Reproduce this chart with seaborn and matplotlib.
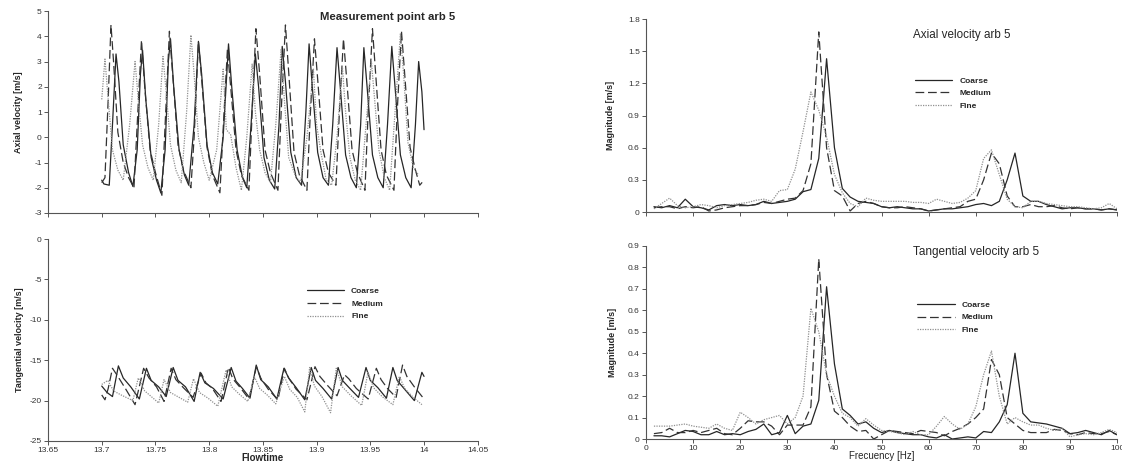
import numpy as np
import pandas as pd
import matplotlib
matplotlib.use("Agg")
import matplotlib.pyplot as plt
import seaborn as sns

# ---- time signals (waypoints) ----
t_ax_coarse = [13.700, 13.702, 13.707, 13.710, 13.7133, 13.716, 13.720, 13.725, 13.729,
               13.733, 13.736, 13.738, 13.741, 13.746, 13.751, 13.755,
               13.759, 13.762, 13.764, 13.767, 13.772, 13.777, 13.781,
               13.786, 13.790, 13.793, 13.798, 13.803, 13.808,
               13.813, 13.818, 13.821, 13.826, 13.831, 13.835,
               13.839, 13.843, 13.846, 13.851, 13.856, 13.861,
               13.865, 13.868, 13.871, 13.876, 13.881, 13.886,
               13.890, 13.893, 13.896, 13.901, 13.906, 13.911,
               13.915, 13.919, 13.922, 13.927, 13.932, 13.937,
               13.941, 13.944, 13.947, 13.952, 13.957, 13.962,
               13.966, 13.970, 13.973, 13.978, 13.983, 13.988,
               13.992, 13.995, 13.998, 14.000]
v_ax_coarse = [-1.7, -1.85, -1.9, 0.5, 3.3, 2.2, -0.3, -1.4, -1.95,
               -0.5, 2.5, 3.45, 1.5, -0.8, -1.7, -2.2,
               -0.5, 3.0, 3.9, 2.0, -0.5, -1.5, -1.9,
               0.5, 3.8, 2.5, -0.3, -1.4, -1.85,
               0.0, 3.7, 2.0, -0.5, -1.6, -2.0,
               0.5, 3.3, 2.0, -0.8, -1.7, -2.05,
               0.5, 3.6, 2.2, -0.6, -1.6, -1.9,
               1.0, 3.7, 2.0, -0.6, -1.6, -1.9,
               0.5, 3.55, 2.0, -0.7, -1.6, -2.0,
               0.5, 3.55, 2.0, -0.7, -1.6, -2.0,
               0.5, 3.6, 2.0, -0.7, -1.6, -2.0,
               0.5, 3.0, 1.8, 0.3]

t_ax_medium = [13.700, 13.703, 13.706, 13.7086, 13.711, 13.715, 13.720, 13.725, 13.730,
               13.733, 13.737, 13.740, 13.745, 13.750, 13.756,
               13.759, 13.763, 13.766, 13.771, 13.776, 13.783,
               13.786, 13.790, 13.793, 13.798, 13.803, 13.810,
               13.813, 13.817, 13.820, 13.825, 13.830, 13.837,
               13.840, 13.8435, 13.847, 13.852, 13.857, 13.864,
               13.867, 13.871, 13.874, 13.879, 13.884, 13.891,
               13.894, 13.898, 13.901, 13.906, 13.911, 13.918,
               13.921, 13.925, 13.928, 13.933, 13.938, 13.945,
               13.948, 13.952, 13.955, 13.960, 13.965, 13.972,
               13.975, 13.979, 13.982, 13.987, 13.992, 13.996, 14.000]
v_ax_medium = [-1.8, -1.6, 1.5, 4.45, 3.0, 0.2, -1.0, -1.6, -2.0,
               0.5, 3.85, 2.0, -0.5, -1.4, -2.3,
               0.5, 4.2, 2.5, -0.3, -1.3, -2.0,
               0.0, 3.8, 2.3, -0.4, -1.5, -2.2,
               0.3, 3.5, 2.0, -0.5, -1.5, -2.1,
               1.0, 4.3, 2.5, -0.5, -1.4, -2.1,
               1.0, 4.45, 2.6, -0.6, -1.5, -2.1,
               0.8, 3.9, 2.3, -0.5, -1.4, -1.9,
               0.8, 3.9, 2.3, -0.5, -1.4, -2.1,
               1.0, 4.3, 2.5, -0.5, -1.5, -2.1,
               1.0, 4.2, 2.5, -0.4, -1.3, -1.9, -1.7]

t_ax_fine = [13.700, 13.703, 13.706, 13.710, 13.715, 13.720, 13.726,
             13.731, 13.734, 13.738, 13.743, 13.748, 13.753,
             13.757, 13.760, 13.764, 13.769, 13.774, 13.779,
             13.783, 13.786, 13.790, 13.795, 13.800, 13.807,
             13.813, 13.816, 13.820, 13.825, 13.830, 13.835,
             13.840, 13.843, 13.847, 13.852, 13.857, 13.862,
             13.867, 13.870, 13.874, 13.880, 13.885, 13.891,
             13.897, 13.900, 13.904, 13.909, 13.914, 13.919,
             13.924, 13.927, 13.931, 13.936, 13.941, 13.946,
             13.951, 13.954, 13.958, 13.963, 13.968, 13.973,
             13.978, 13.981, 13.985, 13.990, 13.995]
v_ax_fine = [1.5, 3.1, 1.5, -0.5, -1.3, -1.7, 0.5,
             3.0, 1.5, -0.3, -1.2, -1.7, 0.5,
             3.2, 1.8, -0.3, -1.3, -1.8, 1.0,
             4.05, 2.5, 0.0, -1.0, -1.7, -0.5,
             2.7, 0.3, 0.1, -1.2, -2.1, 0.0,
             2.9, 1.0, -0.5, -1.4, -1.8, 0.5,
             3.5, 1.5, -0.8, -1.5, -1.8, 0.0,
             2.7, 0.5, -0.6, -1.7, -1.9, 0.0,
             2.8, 1.0, -0.8, -1.7, -2.1, 0.5,
             3.0, 1.5, -0.5, -1.6, -2.1, 1.0,
             4.1, 2.5, -0.2, -1.2, -1.5]

t_tg_coarse = [13.700, 13.705, 13.710, 13.7155, 13.720, 13.727, 13.735, 13.7416, 13.746,
               13.753, 13.760, 13.7665, 13.771, 13.778, 13.786, 13.7916, 13.796, 13.804,
               13.813, 13.8205, 13.825, 13.831, 13.838, 13.8438, 13.848, 13.855, 13.863,
               13.8696, 13.874, 13.881, 13.889, 13.895, 13.899, 13.906, 13.914, 13.920,
               13.924, 13.931, 13.939, 13.946, 13.950, 13.957, 13.965, 13.971, 13.975,
               13.982, 13.991, 13.998, 14.000]
v_tg_coarse = [-18.2, -19.0, -19.5, -15.7, -17.2, -18.3, -19.8, -16.0, -17.5,
               -18.3, -19.5, -15.9, -17.5, -18.3, -20.1, -16.5, -17.8, -18.5,
               -19.8, -15.9, -17.6, -18.5, -19.7, -15.6, -17.4, -18.3, -19.8,
               -16.0, -17.2, -18.4, -19.9, -15.9, -17.5, -18.5, -19.8, -15.9,
               -17.5, -18.5, -19.6, -15.9, -17.5, -18.4, -19.7, -15.9, -17.5,
               -18.6, -20.0, -16.5, -17.0]

t_tg_medium = [13.700, 13.703, 13.706, 13.710, 13.715, 13.722, 13.731, 13.739, 13.744,
               13.751, 13.758, 13.7646, 13.769, 13.776, 13.785, 13.7925, 13.797, 13.803,
               13.811, 13.818, 13.822, 13.829, 13.837, 13.844, 13.848, 13.855, 13.864,
               13.870, 13.874, 13.881, 13.891, 13.8985, 13.903, 13.910, 13.919, 13.926,
               13.930, 13.937, 13.948, 13.9556, 13.960, 13.966, 13.974, 13.980, 13.984,
               13.991, 14.000]
v_tg_medium = [-19.3, -19.9, -18.5, -16.0, -17.0, -18.5, -20.5, -16.0, -17.2,
               -18.3, -20.1, -16.0, -17.4, -18.4, -19.6, -16.6, -17.8, -18.5,
               -20.1, -15.9, -17.3, -18.4, -19.8, -15.8, -17.2, -18.6, -19.9,
               -16.0, -17.2, -18.6, -19.9, -15.8, -17.0, -18.1, -19.4, -16.8,
               -17.3, -18.5, -19.8, -16.0, -17.4, -18.5, -19.6, -15.6, -17.0,
               -18.3, -19.8]

t_tg_fine = [13.700, 13.7056, 13.711, 13.718, 13.729, 13.734, 13.740, 13.747, 13.753,
             13.758, 13.764, 13.772, 13.780, 13.7854, 13.791, 13.799, 13.808, 13.8158,
             13.821, 13.828, 13.836, 13.842, 13.847, 13.854, 13.862, 13.870, 13.875,
             13.882, 13.889, 13.8935, 13.898, 13.905, 13.913, 13.9183, 13.924, 13.932,
             13.942, 13.9478, 13.953, 13.961, 13.971, 13.977, 13.982, 13.990, 13.998]
v_tg_fine = [-18.0, -17.5, -18.8, -19.3, -20.0, -17.2, -18.8, -19.6, -20.3,
             -17.4, -19.0, -19.6, -20.2, -17.3, -19.0, -19.7, -20.7, -16.2,
             -18.3, -19.2, -20.1, -17.0, -18.5, -19.3, -20.4, -17.0, -18.6,
             -19.6, -21.4, -15.9, -18.2, -19.5, -21.5, -16.0, -18.3, -19.4,
             -20.6, -16.5, -18.4, -19.5, -20.5, -17.0, -18.5, -19.6, -20.5]

# ---- spectra ----
freq = [1.67, 3.33, 5.0, 6.67, 8.33, 10.0, 11.67, 13.33, 15.0, 16.67,
        18.33, 20.0, 21.67, 23.33, 25.0, 26.67, 28.33, 30.0, 31.67, 33.33,
        35.0, 36.67, 38.33, 40.0, 41.67, 43.33, 45.0, 46.67, 48.33, 50.0,
        51.67, 53.33, 55.0, 56.67, 58.33, 60.0, 61.67, 63.33, 65.0, 66.67,
        68.33, 70.0, 71.67, 73.33, 75.0, 76.67, 78.33, 80.0, 81.67, 83.33,
        85.0, 86.67, 88.33, 90.0, 91.67, 93.33, 95.0, 96.67, 98.33, 100.0]

fa_coarse = [0.05, 0.04, 0.06, 0.04, 0.12, 0.05, 0.04, 0.02, 0.06, 0.07,
             0.06, 0.07, 0.06, 0.07, 0.10, 0.08, 0.09, 0.10, 0.12, 0.19,
             0.21, 0.50, 1.43, 0.60, 0.22, 0.14, 0.10, 0.09, 0.08, 0.05,
             0.04, 0.05, 0.04, 0.03, 0.03, 0.01, 0.02, 0.03, 0.03, 0.04,
             0.05, 0.07, 0.08, 0.06, 0.10, 0.30, 0.55, 0.15, 0.10, 0.10,
             0.07, 0.05, 0.03, 0.04, 0.04, 0.03, 0.03, 0.02, 0.03, 0.02]
fa_medium = [0.04, 0.05, 0.05, 0.03, 0.05, 0.04, 0.05, 0.01, 0.02, 0.04,
             0.05, 0.06, 0.06, 0.07, 0.09, 0.08, 0.10, 0.12, 0.13, 0.20,
             0.45, 1.68, 0.60, 0.20, 0.15, 0.01, 0.08, 0.10, 0.08, 0.05,
             0.04, 0.04, 0.05, 0.04, 0.03, 0.01, 0.02, 0.03, 0.04, 0.05,
             0.10, 0.12, 0.30, 0.55, 0.45, 0.15, 0.05, 0.05, 0.07, 0.05,
             0.05, 0.06, 0.04, 0.03, 0.04, 0.03, 0.03, 0.02, 0.03, 0.02]
fa_fine = [0.03, 0.08, 0.13, 0.06, 0.04, 0.05, 0.07, 0.06, 0.04, 0.06,
           0.07, 0.08, 0.09, 0.11, 0.12, 0.10, 0.20, 0.21, 0.40, 0.75,
           1.12, 0.95, 0.70, 0.35, 0.18, 0.08, 0.05, 0.13, 0.11, 0.10,
           0.10, 0.10, 0.10, 0.09, 0.09, 0.08, 0.12, 0.10, 0.08, 0.09,
           0.13, 0.20, 0.50, 0.58, 0.35, 0.12, 0.05, 0.04, 0.10, 0.10,
           0.08, 0.07, 0.06, 0.05, 0.05, 0.04, 0.03, 0.04, 0.08, 0.03]

ft_coarse = [0.015, 0.015, 0.01, 0.025, 0.04, 0.035, 0.02, 0.02, 0.035, 0.02,
             0.025, 0.02, 0.035, 0.045, 0.07, 0.02, 0.03, 0.11, 0.025, 0.06,
             0.07, 0.18, 0.71, 0.35, 0.14, 0.11, 0.07, 0.08, 0.05, 0.03,
             0.04, 0.03, 0.025, 0.02, 0.02, 0.01, 0.005, 0.02, 0.0, 0.005,
             0.01, 0.005, 0.035, 0.03, 0.08, 0.16, 0.40, 0.12, 0.08, 0.075,
             0.07, 0.06, 0.05, 0.025, 0.03, 0.04, 0.03, 0.02, 0.04, 0.02]
ft_medium = [0.025, 0.03, 0.05, 0.03, 0.03, 0.04, 0.03, 0.04, 0.05, 0.025,
             0.02, 0.05, 0.085, 0.08, 0.08, 0.06, 0.02, 0.065, 0.065, 0.065,
             0.15, 0.84, 0.30, 0.13, 0.10, 0.06, 0.035, 0.04, 0.0, 0.02,
             0.04, 0.035, 0.03, 0.025, 0.04, 0.035, 0.03, 0.015, 0.035, 0.05,
             0.07, 0.10, 0.14, 0.37, 0.30, 0.10, 0.07, 0.04, 0.03, 0.03,
             0.03, 0.045, 0.04, 0.025, 0.02, 0.03, 0.025, 0.025, 0.035, 0.02]
ft_fine = [0.06, 0.06, 0.06, 0.065, 0.07, 0.06, 0.055, 0.05, 0.07, 0.05,
           0.04, 0.125, 0.10, 0.07, 0.09, 0.10, 0.11, 0.07, 0.10, 0.20,
           0.61, 0.50, 0.30, 0.20, 0.12, 0.10, 0.06, 0.095, 0.065, 0.04,
           0.035, 0.03, 0.02, 0.035, 0.02, 0.02, 0.06, 0.105, 0.07, 0.045,
           0.07, 0.15, 0.30, 0.41, 0.20, 0.07, 0.10, 0.08, 0.065, 0.065,
           0.05, 0.04, 0.05, 0.01, 0.02, 0.025, 0.02, 0.03, 0.045, 0.03]

labels = ["Coarse", "Medium", "Fine"]
styles = {
    "Coarse": dict(color="#262626", linestyle="-", lw=0.9),
    "Medium": dict(color="#333333", linestyle=(0, (7, 3)), lw=0.9),
    "Fine": dict(color="#909090", linestyle=(0, (1, 1)), lw=0.9),
}

sns.set_style("white")
plt.rcParams["font.family"] = ["Liberation Sans", "DejaVu Sans"]
plt.rcParams["axes.unicode_minus"] = False


def style_axis(ax):
    """Thin grey left/bottom spines with small outward ticks."""
    for s in ["top", "right"]:
        ax.spines[s].set_visible(False)
    for s in ["left", "bottom"]:
        ax.spines[s].set_color("#555555")
        ax.spines[s].set_linewidth(0.8)
    ax.tick_params(direction="out", length=3, width=0.7, color="#555555",
                   labelsize=6, labelcolor="#333333", pad=1.5,
                   bottom=True, left=True)


def draw(ax, series):
    for name, (x, y) in zip(labels, series):
        df = pd.DataFrame({"x": x, "y": y})
        sns.lineplot(data=df, x="x", y="y", ax=ax, estimator=None, sort=False,
                     label=name, **styles[name])
    ax.set_xlabel("")
    ax.set_ylabel("")


fig = plt.figure(figsize=(11.22, 4.61), dpi=100)
ax1 = fig.add_axes([0.0428, 0.538, 0.383, 0.438])
ax2 = fig.add_axes([0.0428, 0.0434, 0.383, 0.438])
ax3 = fig.add_axes([0.5758, 0.540, 0.4198, 0.4187])
ax4 = fig.add_axes([0.5758, 0.0477, 0.4198, 0.4187])
for ax in [ax1, ax2, ax3, ax4]:
    style_axis(ax)

# axial velocity, time
draw(ax1, [(t_ax_coarse, v_ax_coarse), (t_ax_medium, v_ax_medium), (t_ax_fine, v_ax_fine)])
ax1.get_legend().remove()
ax1.set_xlim(13.65, 14.05)
ax1.set_ylim(-3, 5)
ax1.set_yticks(np.arange(-3, 6, 1))
ax1.set_xticks(np.arange(13.65, 14.051, 0.05))
ax1.set_xticklabels([])
ax1.set_ylabel("Axial velocity [m/s]", fontsize=6.5, fontweight="bold", labelpad=8)
ax1.text(0.947, 0.97, "Measurement point arb 5", transform=ax1.transAxes,
         ha="right", va="center", fontsize=8.2, fontweight="bold")

# tangential velocity, time
draw(ax2, [(t_tg_coarse, v_tg_coarse), (t_tg_medium, v_tg_medium), (t_tg_fine, v_tg_fine)])
ax2.set_xlim(13.65, 14.05)
ax2.set_ylim(-25, 0)
ax2.set_yticks(np.arange(-25, 1, 5))
ticks = np.arange(13.65, 14.051, 0.05)
ax2.set_xticks(ticks)
ax2.set_xticklabels([f"{v:g}" for v in np.round(ticks, 2)])
ax2.set_xlabel("Flowtime", fontsize=7, fontweight="bold", labelpad=-1)
ax2.set_ylabel("Tangential velocity [m/s]", fontsize=6.5, fontweight="bold", labelpad=4)
ax2.legend(loc="upper left", bbox_to_anchor=(0.585, 0.80), frameon=False,
           handlelength=4.5, handletextpad=0.8, labelspacing=0.6,
           prop={"weight": "bold", "size": 6})

# axial spectrum
draw(ax3, [(freq, fa_coarse), (freq, fa_medium), (freq, fa_fine)])
ax3.set_xlim(0, 100)
ax3.set_ylim(0, 1.8)
ax3.set_yticks(np.arange(0, 1.81, 0.3))
ax3.set_yticklabels(["0", "0.3", "0.6", "0.9", "1.2", "1.5", "1.8"])
ax3.set_xticks(np.arange(0, 101, 10))
ax3.set_xticklabels([])
ax3.set_ylabel("Magnitude [m/s]", fontsize=6.5, fontweight="bold", labelpad=9)
ax3.text(0.567, 0.917, "Axial velocity arb 5", transform=ax3.transAxes,
         ha="left", va="center", fontsize=8.4)
ax3.legend(loc="upper left", bbox_to_anchor=(0.555, 0.74), frameon=False,
           handlelength=4.5, handletextpad=0.8, labelspacing=0.6,
           prop={"weight": "bold", "size": 6})

# tangential spectrum
draw(ax4, [(freq, ft_coarse), (freq, ft_medium), (freq, ft_fine)])
ax4.set_xlim(0, 100)
ax4.set_ylim(0, 0.9)
ax4.set_yticks(np.arange(0, 0.91, 0.1))
ax4.set_yticklabels(["0"] + [f"{v:.1f}" for v in np.arange(0.1, 0.91, 0.1)])
ax4.set_xticks(np.arange(0, 101, 10))
ax4.set_xticklabels([str(v) for v in range(0, 101, 10)])
ax4.set_xlabel("Frecuency [Hz]", fontsize=7, labelpad=-1)
ax4.set_ylabel("Magnitude [m/s]", fontsize=6.5, fontweight="bold", labelpad=8)
ax4.text(0.567, 0.969, "Tangential velocity arb 5", transform=ax4.transAxes,
         ha="left", va="center", fontsize=8.5)
ax4.legend(loc="upper left", bbox_to_anchor=(0.56, 0.755), frameon=False,
           handlelength=4.5, handletextpad=0.8, labelspacing=0.6,
           prop={"weight": "bold", "size": 6})

fig.savefig("out.png", dpi=100)
